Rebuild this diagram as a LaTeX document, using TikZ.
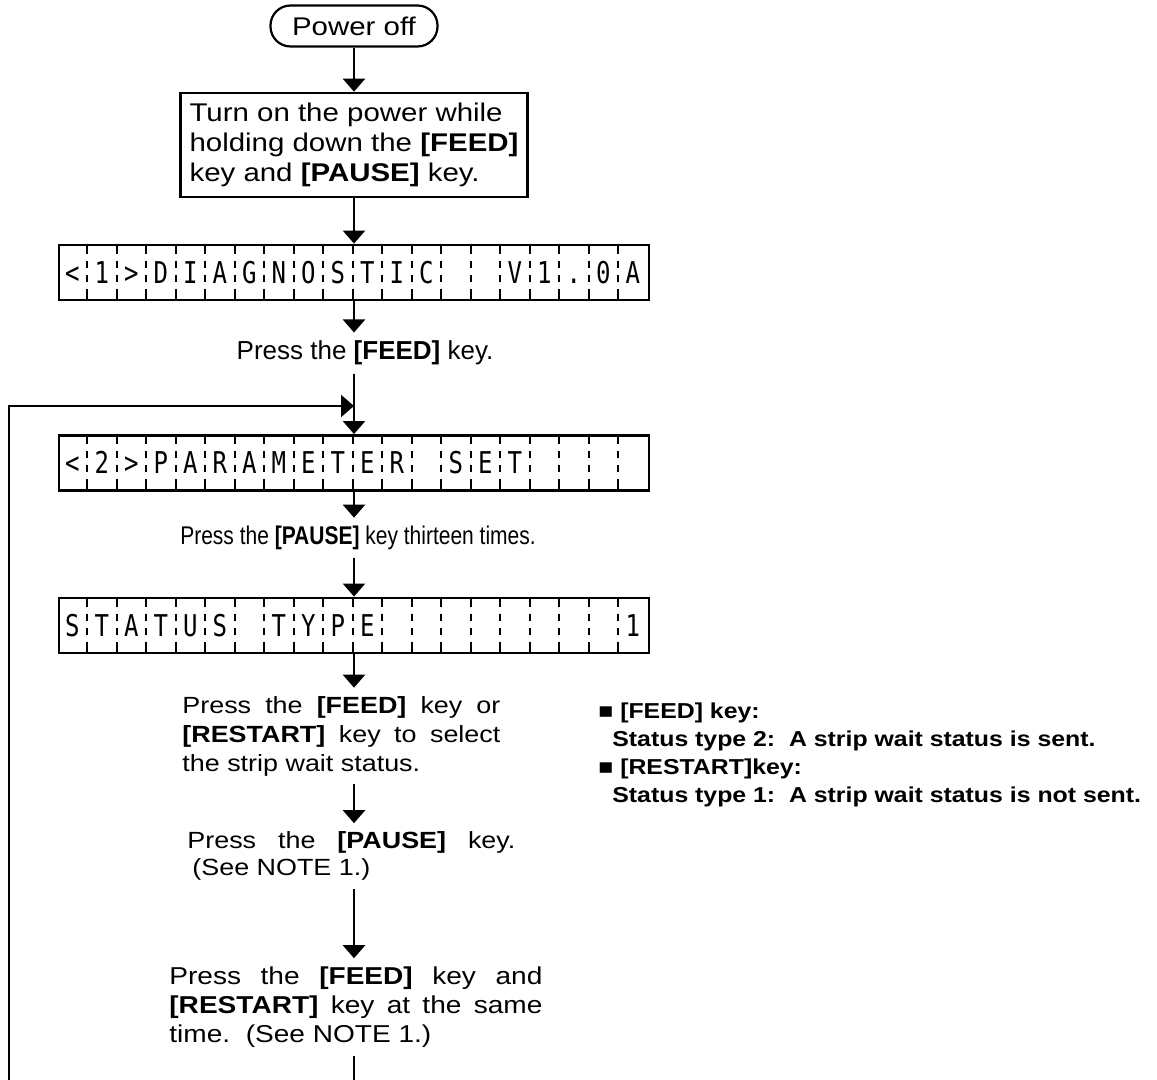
\documentclass[tikz,border=0pt]{standalone}
\usepackage{fontspec}
\setmainfont{Liberation Sans}
\newfontfamily\widefont[FakeStretch=1.15]{Liberation Sans}
\newfontfamily\narrowfont[FakeStretch=0.82]{Liberation Sans}
\newfontfamily\lcdfont[FakeStretch=0.8]{DejaVu Sans Mono}
\usetikzlibrary{arrows.meta,calc}
\tikzset{
  flow/.style={-{Triangle[width=11pt,length=6.5pt]}, line width=1.1pt},
  link/.style={line width=1.1pt},
  term/.style={draw, line width=1.1pt, rounded corners=10pt, minimum width=83.5pt,
               minimum height=20.5pt, font=\fontsize{12.8}{15}\widefont},
  keybox/.style={draw, line width=1.3pt, minimum width=173.5pt, minimum height=52pt,
                 inner xsep=4pt, align=left, font=\fontsize{12.8}{15}\widefont},
  lcd/.style={draw, line width=1.4pt, minimum width=295pt, minimum height=27.5pt, inner sep=0pt},
  lcdchar/.style={anchor=base, inner sep=0pt, font=\fontsize{15}{15}\lcdfont},
  cellsep/.style={line width=0.9pt,
                  dash pattern=on 5pt off 3.5pt on 3.5pt off 3.5pt on 3.5pt off 3.5pt on 5pt},
  msg/.style={inner xsep=0pt, inner ysep=4pt, font=\fontsize{11.7}{14.5}\widefont},
  remark/.style={anchor=west, inner sep=0pt, align=left, font=\fontsize{10.8}{14}\widefont\bfseries},
}
% one display line: name, y of centre, the 20 characters
\newcommand{\lcdrow}[3]{%
  \node[lcd] (#1) at (354,#2) {};
  \foreach \ch [count=\k] in {#3}
    \node[lcdchar] at ($(#1.west)+(\k*29.5-14.75,11)$) {\ch};
  \foreach \k in {1,...,19}
    \draw[cellsep] ($(#1.north west)+(\k*29.5,0)$) -- ($(#1.south west)+(\k*29.5,0)$);
}

\begin{document}
\begin{tikzpicture}[x=0.5pt, y=-0.5pt]
  \useasboundingbox (0,0) rectangle (1157,1080);
  \node[term] (off) at (354,26) {Power off};
  \node[keybox] (turnon) at (354,145) {Turn on the power while\\holding down the \textbf{[FEED]}\\key and \textbf{[PAUSE]} key.};
  \lcdrow{lcd1}{272.5}{<,1,>,D,I,A,G,N,O,S,T,I,C,{},{},V,1,.,0,A}
  \node[msg, font=\fontsize{13}{15}\selectfont] (feed) at (365,353) {Press the \textbf{[FEED]} key.};
  \lcdrow{lcd2}{463}{<,2,>,P,A,R,A,M,E,T,E,R,{},S,E,T,{},{},{},{}}
  \node[msg, font=\fontsize{12.8}{15}\narrowfont] (thirteen) at (358,538) {Press the \textbf{[PAUSE]} key thirteen times.};
  \lcdrow{lcd3}{625.5}{S,T,A,T,U,S,{},T,Y,P,E,{},{},{},{},{},{},{},{},1}
  \node[msg, anchor=west, text width=159pt, align=justify] (select) at (182,736)
    {Press the \textbf{[FEED]} key or\linebreak \textbf{[RESTART]} key to select\linebreak the strip wait status.};
  \node[msg, anchor=west, text width=164pt, align=justify, font=\fontsize{11.7}{13.5}\widefont] (pause) at (187,856)
    {Press the \textbf{[PAUSE]} key.\linebreak \hspace*{2.5pt}(See NOTE 1.)};
  \node[msg, anchor=west, text width=186.5pt, align=justify, font=\fontsize{12.2}{14.5}\widefont] (both) at (169,1007)
    {Press the \textbf{[FEED]} key and\linebreak \textbf{[RESTART]} key at the same\linebreak time.\ \ (See NOTE 1.)};
  \node[remark] (notes) at (598,755)
    {■ [FEED] key:\\\hspace*{7pt}Status type 2:\ \ A strip wait status is sent.\\
     ■ [RESTART]key:\\\hspace*{7pt}Status type 1:\ \ A strip wait status is not sent.};
  \coordinate (exit) at (354,1080);
  \coordinate (loopfoot) at (9,1080);
  \coordinate (loopin) at (354,406);
  \draw[flow] (off.south) -- (turnon.north);
  \draw[flow] (turnon.south) -- (lcd1.north);
  \draw[flow] (lcd1.south) -- (lcd1.south |- feed.north);
  \draw[flow] (feed.south -| lcd2.north) -- (lcd2.north);
  \draw[flow] (lcd2.south) -- (lcd2.south |- thirteen.north);
  \draw[flow] (thirteen.south -| lcd3.north) -- (lcd3.north);
  \draw[flow] (lcd3.south) -- (lcd3.south |- select.north);
  \draw[flow] (select.south -| lcd3.south) -- (lcd3.south |- pause.north);
  \draw[flow] (pause.south -| lcd3.south) -- (lcd3.south |- both.north);
  \draw[link] (both.south -| lcd3.south) -- (exit);
  \draw[flow] (loopfoot) |- (loopin);
\end{tikzpicture}
\end{document}
